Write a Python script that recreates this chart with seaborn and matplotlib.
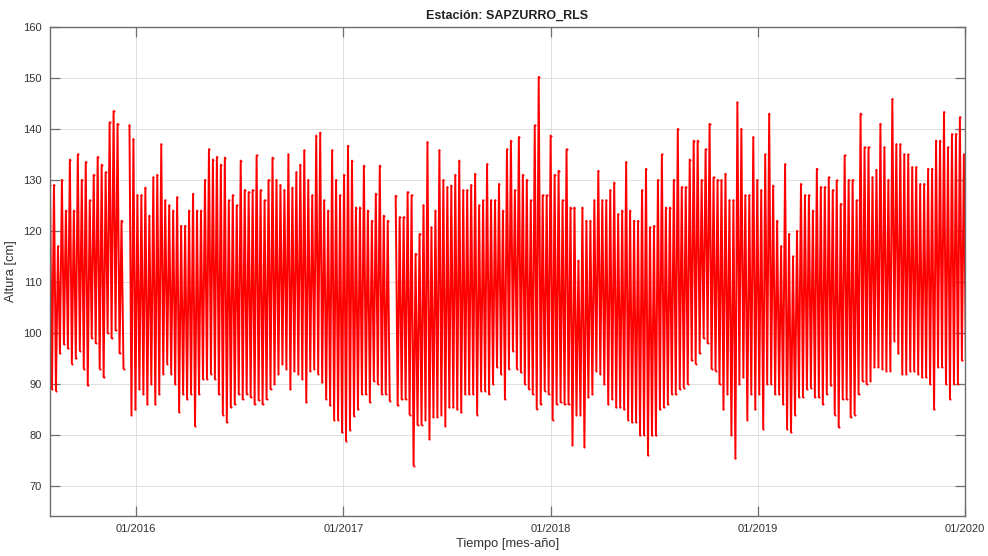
import numpy as np
import pandas as pd
import matplotlib
matplotlib.use("Agg")
import matplotlib.pyplot as plt
import matplotlib.dates as mdates
import seaborn as sns

# ---- data: weekly high / low water level (cm) ----
start_date = "2015-08-03"
week_step_days = 7
hi = [129, 129, 117, 130, 124, 134, 124, 135, 130, 133.5, 126, 131, 134.5, 133, 131.5, 141.3, 143.5, 141, 122,
      np.nan,
      140.7, 138, 127, 127, 128.5, 123, 130.5, 131, 137, 126, 125, 124, 126.6, 121, 121, 124, 127.3, 124, 124, 130,
      136, 134, 134.5, 133, 134.4, 126, 127, 125, 133.8, 128, 127.6, 128, 134.8, 128, 126, 130, 134.4, 130,
      129, 128, 135, 128.5, 131.5, 133, 135.8, 130, 127, 138.7, 139.3, 126, 124, 135.8, 130, 127, 131, 136.7,
      133.8, 124.6, 124.6, 132.8, 124, 122, 127.3, 132.8, 123, 122,
      np.nan,
      126.9, 122.7, 122.7, 127.6, 127, 115.5, 119.4, 125, 137.4, 120.7, 124, 135.8, 130, 128.6, 128.9, 131, 133.8,
      128, 128, 129, 131.2, 125, 126, 133.1, 126, 126, 129.2, 124, 136, 137.7,
      128, 138.4, 131, 130, 126, 140.7, 150.2, 127, 127, 138.7, 131, 131.8, 126, 136, 124.6, 124.6, 114.2, 124.6,
      122, 122, 126, 131.8, 126, 126, 128, 129.5, 123.3, 124, 133.5, 124, 122, 122, 128, 132.2, 120.7, 121, 130,
      135, 124.6, 124.6, 130, 140, 128.6, 128.6, 134, 137.7, 137.7, 130, 136, 141, 130.5, 130, 130, 131.2, 126,
      126, 145.2,
      140, 127, 127, 138.4, 130, 128, 135, 143, 128.9, 122, 117, 133.1, 119.4, 115, 120, 129.2, 127, 127, 124,
      132.2, 128.6, 128.6, 130.5, 128, 129.9, 125.3, 134.8, 130, 130, 126, 143, 136.4, 136.4, 130.5, 132, 141,
      136.4, 130, 145.9, 137, 137, 135, 135, 132.5, 132.5, 129.2, 129.2, 132.2, 132.2, 137.7, 137.7, 143.3,
      136.4, 139, 139, 142.3, 135]
lo = [89, 88.7, 96, 97.8, 97, 94, 95, 96.5, 93, 89.7, 99, 98, 93, 91.3, 100, 99, 100.5, 96, 93,
      np.nan,
      84, 85, 89, 88, 86, 90, 86, 88, 92, 94, 92, 90, 84.5, 88, 87, 88, 81.8, 88, 91, 91, 92, 91, 88, 84, 82.5,
      85.4, 86, 88, 87, 88, 87.4, 86, 86.8, 86, 87, 89, 90, 92,
      94, 93, 89, 92.5, 92, 91, 86.4, 92.5, 93, 92, 90.3, 87, 85.8, 83, 83, 80.5, 78.9, 81, 83.8, 85, 88, 88,
      86.4, 90.6, 90, 88, 88, 86.7,
      np.nan,
      85.8, 87, 87, 84, 74, 82, 82, 83, 79.2, 83.5, 83.5, 84, 81.8, 85.4, 85.4, 85, 84.4, 88, 88, 88, 84, 88.7,
      88.7, 88, 90, 93.3, 92, 87, 93, 96.5,
      93, 92.3, 90, 89, 88, 85.1, 86, 88.7, 88, 83, 86, 86.4, 86, 86, 78, 84, 84, 77.6, 87.4, 88, 92.6, 92, 90,
      86, 87, 85.4, 85.4, 85, 83, 82.5, 82.5, 79.9, 80, 76, 79.9, 79.9, 85, 85.4, 86, 88, 88, 89, 89.3, 90, 94.6,
      94, 96, 99, 98, 93, 92.6, 90, 85, 88, 80, 75.4, 90,
      91.3, 83, 88, 85, 88, 81.2, 90, 90, 88, 88, 86, 81.2, 80.5, 84, 87.4, 87.4, 89, 89.3, 87.4, 87.4, 86, 88,
      89.7, 84, 81.5, 87, 87, 83.5, 84, 88, 90.6, 90, 90.6, 93.3, 93.3, 93, 92.6, 92.6, 98.5, 96, 92, 92, 92.6,
      92.6, 92, 91.3, 91.3, 90, 85, 93.3, 93.3, 90, 87, 90, 90, 94.6, 94.6]

year_ticks = ["2016-01-01", "2017-01-01", "2018-01-01", "2019-01-01", "2020-01-01"]
x_limits = ("2015-08-03", "2020-01-01")
y_limits = (64.1, 160)
y_ticks = [70, 80, 90, 100, 110, 120, 130, 140, 150, 160]

# ---- assemble series: high at week start, low at mid-week ----
n = min(len(hi), len(lo))
t0 = pd.Timestamp(start_date)
rows = []
seg = 0
for k in range(n):
    if np.isnan(hi[k]) or np.isnan(lo[k]):
        seg += 1
        continue
    tk = t0 + pd.Timedelta(days=week_step_days * k)
    rows.append((tk, hi[k], seg))
    rows.append((tk + pd.Timedelta(days=week_step_days / 2), lo[k], seg))
df = pd.DataFrame(rows, columns=["Tiempo", "Altura", "seg"])

sns.set_theme(style="white")
plt.rcParams["font.family"] = ["Liberation Sans", "DejaVu Sans"]
text_c = "#333333"
axis_c = "#6e6e6e"

fig = plt.figure(figsize=(9.88, 5.56), dpi=100)
ax = fig.add_axes([50 / 988, 40 / 556, 915 / 988, 489 / 556])

sns.lineplot(data=df, x="Tiempo", y="Altura", units="seg", estimator=None,
             color="#ff0000", linewidth=1.4, marker=".", markersize=3,
             markeredgewidth=0, sort=False, ax=ax, legend=False)

ax.set_xlim(pd.Timestamp(x_limits[0]), pd.Timestamp(x_limits[1]))
ax.set_ylim(*y_limits)
ax.set_xticks([pd.Timestamp(d) for d in year_ticks])
ax.xaxis.set_major_formatter(mdates.DateFormatter("%m/%Y"))
ax.set_yticks(y_ticks)

ax.grid(True, color="#dedede", linewidth=0.7)
ax.set_axisbelow(True)
for s in ax.spines.values():
    s.set_color(axis_c)
    s.set_linewidth(1.0)
    s.set_visible(True)
ax.tick_params(direction="in", length=7, width=0.9, color=axis_c, labelcolor=text_c,
               labelsize=8, top=True, right=True, bottom=True, left=True, pad=6)

ax.set_title("Estación: SAPZURRO_RLS", fontsize=9, fontweight="bold", color="#222222", pad=6)
ax.set_xlabel("Tiempo [mes-año]", fontsize=9.3, color=text_c, labelpad=3)
ax.set_ylabel("Altura [cm]", fontsize=9.3, color=text_c, labelpad=4)

fig.savefig("out.png", dpi=100, facecolor="white")
